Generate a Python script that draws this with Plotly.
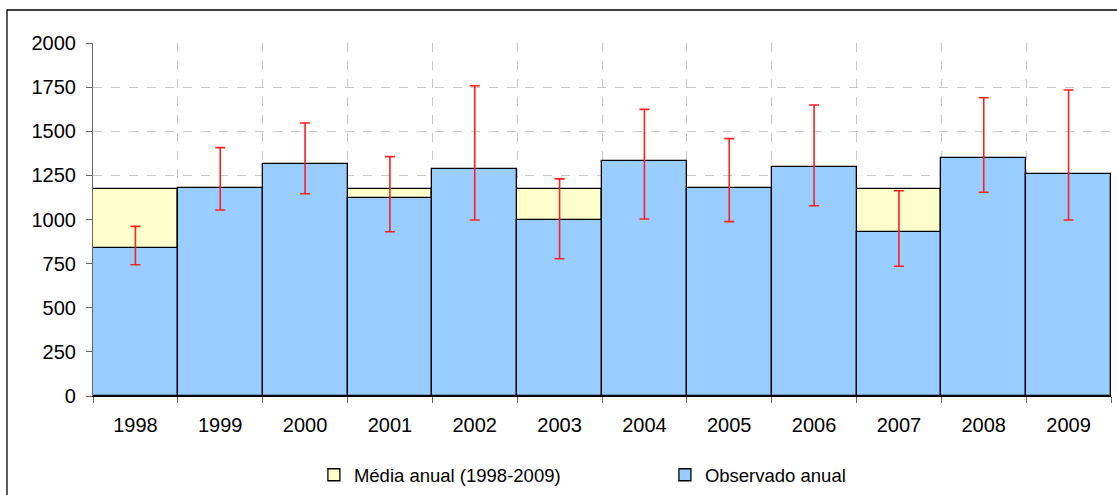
import plotly.graph_objects as go

years = ["1998", "1999", "2000", "2001", "2002", "2003", "2004", "2005", "2006", "2007", "2008", "2009"]
media_anual = [1174] * 12
observado = [837, 1180, 1314, 1120, 1288, 995, 1330, 1179, 1297, 929, 1347, 1256]
erro_sup = [961, 1407, 1547, 1356, 1758, 1230, 1624, 1458, 1649, 1163, 1690, 1734]
erro_inf = [744, 1054, 1146, 931, 997, 778, 1003, 988, 1078, 735, 1154, 997]

plus = [u - o for u, o in zip(erro_sup, observado)]
minus = [o - l for o, l in zip(observado, erro_inf)]

FONT = "Liberation Sans, Arial, sans-serif"

fig = go.Figure()
fig.add_trace(go.Bar(
    x=years, y=media_anual, name="Média anual (1998-2009)",
    marker=dict(color="#FFFFCC", line=dict(color="#000000", width=1.3)),
))
fig.add_trace(go.Bar(
    x=years, y=observado, name="Observado anual",
    marker=dict(color="#99CCFF", line=dict(color="#000000", width=1.3)),
    error_y=dict(type="data", symmetric=False, array=plus, arrayminus=minus,
                 color="#FF2020", thickness=1.6, width=5),
))

fig.update_layout(
    width=1117, height=495,
    margin=dict(l=93, r=6, t=43, b=99),
    barmode="overlay", bargap=0,
    paper_bgcolor="white", plot_bgcolor="white",
    font=dict(family=FONT, size=20, color="#000000"),
    showlegend=True,
    legend=dict(orientation="h", xref="paper", yref="container",
                x=0.217, xanchor="left", y=0.04, yanchor="middle",
                font=dict(size=18.5), entrywidth=306, traceorder="normal",
                bgcolor="rgba(0,0,0,0)"),
    xaxis=dict(type="category", tickson="boundaries", ticks="outside", ticklen=6,
               tickcolor="#666666", showline=True, linecolor="#000000", linewidth=1.3,
               showgrid=True, gridcolor="#C8C8C8", griddash="dash", gridwidth=1,
               ticklabelstandoff=11, fixedrange=True),
    yaxis=dict(range=[0, 2000], dtick=250, tick0=0, ticks="outside", ticklen=6,
               tickcolor="#666666", showline=True, linecolor="#666666", linewidth=1.2,
               showgrid=True, gridcolor="#C8C8C8", griddash="dash", gridwidth=1,
               zeroline=False, ticklabelstandoff=6, fixedrange=True),
    shapes=[dict(type="rect", xref="paper", yref="paper",
                 x0=-0.0845, x1=1.03, y0=-0.4, y1=1.0935,
                 line=dict(color="#000000", width=1.3), fillcolor="rgba(0,0,0,0)",
                 layer="above")],
)

fig.write_html("out.html", config={"displayModeBar": False},
               post_script="document.body.style.margin='0';document.body.style.padding='0';")
